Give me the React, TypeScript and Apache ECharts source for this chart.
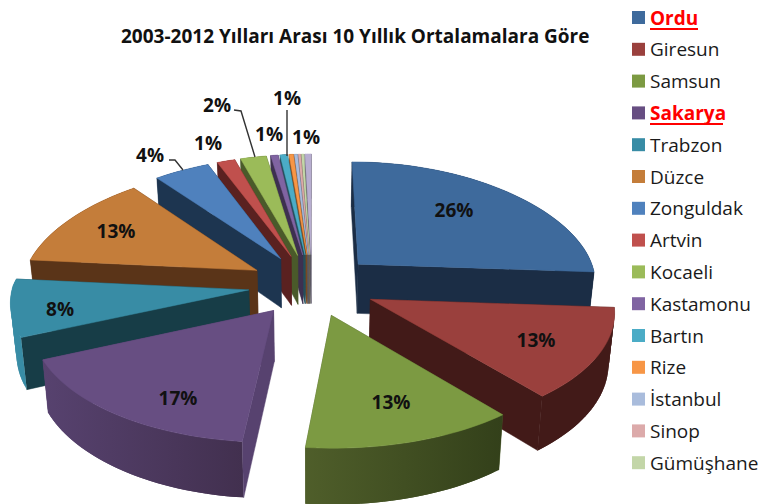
import React, { useEffect, useRef } from "react";
import * as echarts from "echarts";

const TITLE = "2003-2012 Yılları Arası 10 Yıllık Ortalamalara Göre";
const cities = ["Ordu", "Giresun", "Samsun", "Sakarya", "Trabzon", "Düzce", "Zonguldak", "Artvin", "Kocaeli", "Kastamonu", "Bartın", "Rize", "İstanbul", "Sinop", "Gümüşhane", "Diğer"];
const shares = [26.1, 12.8, 12.75, 16.85, 8.0, 12.8, 4.45, 1.45, 2.1, 0.6, 0.6, 0.35, 0.25, 0.2, 0.2, 0.5];
const topColors = ["#3e6a9c", "#9a403d", "#7c9a42", "#674e82", "#388ca5", "#c47d3a", "#4f81bd", "#c0504d", "#9bbb59", "#8064a2", "#4bacc6", "#f79646", "#a9bcdc", "#dcaaaa", "#c3d6a8", "#b8aed0"];
const cutColors = ["#1b2d45", "#421a18", "#4a5a28", "#57426f", "#173d47", "#5a3418", "#1d3550", "#5a2120", "#4a5a2a", "#3d3050", "#24505c", "#7a4a22", "#555d6c", "#6c5454", "#606a54", "#5c5668"];
const wallFrom = ["#1b2d45", "#421a18", "#4f5e2a", "#57426f", "#388ca5", "#5a3418", "#1d3550", "#5a2120", "#4a5a2a", "#3d3050", "#24505c", "#7a4a22", "#555d6c", "#6c5454", "#606a54", "#5c5668"];
const wallTo = ["#1b2d45", "#421a18", "#33401a", "#42304f", "#388ca5", "#5a3418", "#1d3550", "#5a2120", "#4a5a2a", "#3d3050", "#24505c", "#7a4a22", "#555d6c", "#6c5454", "#606a54", "#5c5668"];
const legendCount = 15;
const highlighted = ["Ordu", "Sakarya"];

// projection of the exploded pie
const CX = 312, CY = 285, FX_RIGHT = 240, FX_LEFT = 236, FY = 115, PERSP = 0.09, DEPTH = 50, EXPLODE = 0.27;
const BACK_NARROW = 0.055, BOTTOM_SHRINK = 0.98;

const total = shares.reduce((a, b) => a + b, 0);
const rad = (s: number) => (s / total) * Math.PI * 2;
const starts: number[] = [];
shares.reduce((acc, s, i) => ((starts[i] = acc), acc + rad(s)), 0);

function project(X: number, Y: number) {
  const w = 1 / (1 - PERSP * Y);
  const narrow = Y < 0 ? 1 + BACK_NARROW * Y : 1;
  const x = CX + (X < 0 ? FX_LEFT : FX_RIGHT) * X * w * narrow;
  const y = CY + FY * Y * w;
  return { x, y, bx: CX + (x - CX) * BOTTOM_SHRINK, by: y + DEPTH * w };
}

function sliceChildren(i: number) {
  const a0 = starts[i];
  const a1 = a0 + rad(shares[i]);
  const mid = (a0 + a1) / 2;
  const ox = EXPLODE * Math.sin(mid);
  const oy = -EXPLODE * Math.cos(mid);
  const apex = project(ox, oy);
  const n = Math.max(4, Math.ceil((a1 - a0) / 0.03));
  const rim: any[] = [];
  for (let k = 0; k <= n; k++) {
    const a = a0 + ((a1 - a0) * k) / n;
    rim.push(project(ox + Math.sin(a), oy - Math.cos(a)));
  }
  const quad = (p: any, q: any) => [[p.x, p.y], [q.x, q.y], [q.bx, q.by], [p.bx, p.by]];
  const first = rim[0];
  const last = rim[rim.length - 1];
  const xs = rim.map((p) => p.x);
  const xMin = Math.min(...xs), xMax = Math.max(...xs);
  const wallFill = new echarts.graphic.LinearGradient(xMin, 0, xMax, 0, [
    { offset: 0, color: wallFrom[i] },
    { offset: 1, color: wallTo[i] },
  ], true);
  // neighbouring wall pieces overlap so that no seam shows between them
  const wallFaces = rim.slice(0, -1).map((p, k) => ({
    y: (first.y + last.y) / 2 + 40,
    shape: quad(p, rim[Math.min(k + 2, n)]),
    fill: wallFill,
    noStroke: true,
  }));
  const faces: any[] = [
    { y: first.y, shape: quad(apex, first), fill: cutColors[i] },
    { y: last.y, shape: quad(apex, last), fill: cutColors[i] },
    ...wallFaces,
  ].sort((p, q) => p.y - q.y);
  const children: any[] = faces.map((f) => ({
    type: "polygon",
    shape: { points: f.shape },
    style: f.noStroke ? { fill: f.fill } : { fill: f.fill, stroke: f.fill, lineWidth: 0.5 },
  }));
  children.push({
    type: "polygon",
    shape: { points: [[apex.x, apex.y], ...rim.map((p) => [p.x, p.y])] },
    style: { fill: topColors[i], stroke: topColors[i], lineWidth: 0.5 },
  });
  return children;
}

// back slices first, front slices last
const paintOrder = [15, 14, 13, 12, 11, 10, 9, 8, 7, 6, 5, 4, 0, 3, 1, 2];

const labelAt: [number, number, number][] = [
  [0, 454, 210], [1, 536, 340], [2, 391, 402], [3, 178, 398], [4, 60, 309], [5, 116, 231],
  [6, 150, 155], [7, 208, 143], [8, 217, 105], [9, 269, 134], [10, 287, 98], [15, 306, 137],
];
const leaders = [
  [[169, 160], [175, 160], [183, 170]],
  [[234, 110], [241, 111], [255, 157]],
  [[287, 110], [287, 156]],
];
const underlines = [
  [650, 698, 29],
  [650, 723, 124],
];

export default function App() {
  const ref = useRef<HTMLDivElement>(null);
  useEffect(() => {
    document.body.style.margin = "0";
    const chart = echarts.init(ref.current!, undefined, { renderer: "svg" });
    const FONT = "Open Sans";
    chart.setOption({
      animation: false,
      backgroundColor: "#ffffff",
      title: {
        text: TITLE,
        left: 121,
        top: 26,
        padding: 0,
        textStyle: { fontFamily: FONT, fontSize: 19, fontWeight: "bold", color: "#111111" },
      },
      legend: {
        orient: "vertical",
        left: 632,
        top: 6,
        padding: 0,
        icon: "rect",
        itemWidth: 13,
        itemHeight: 13,
        itemGap: 8.8,
        selectedMode: false,
        textStyle: { fontFamily: FONT, fontSize: 19, color: "#1a1a1a", lineHeight: 23 },
        data: cities.slice(0, legendCount).map((name) =>
          highlighted.includes(name)
            ? { name, textStyle: { color: "#ff0000", fontWeight: "bold" } }
            : { name }
        ),
      },
      series: paintOrder.map((i) => ({
        type: "custom",
        name: cities[i],
        coordinateSystem: "none",
        itemStyle: { color: topColors[i] },
        data: [shares[i]],
        silent: true,
        renderItem: () => ({ type: "group", children: sliceChildren(i) }),
      })),
      graphic: [
        ...leaders.map((points) => ({
          type: "polyline",
          z: 50,
          shape: { points },
          style: { stroke: "#333333", lineWidth: 1.4, fill: "none" },
        })),
        ...underlines.map(([x1, x2, y]) => ({
          type: "line",
          z: 50,
          shape: { x1, x2, y1: y, y2: y },
          style: { stroke: "#ff0000", lineWidth: 2 },
        })),
        ...labelAt.map(([i, x, y]) => ({
          type: "text",
          z: 60,
          x,
          y,
          style: {
            text: `${Math.max(1, Math.round(shares[i]))}%`,
            fontFamily: FONT,
            fontSize: 19,
            fontWeight: "bold",
            fill: "#111111",
            align: "center",
            verticalAlign: "middle",
          },
        })),
      ],
    });
    return () => chart.dispose();
  }, []);
  return <div ref={ref} style={{ width: 761, height: 504 }} />;
}
